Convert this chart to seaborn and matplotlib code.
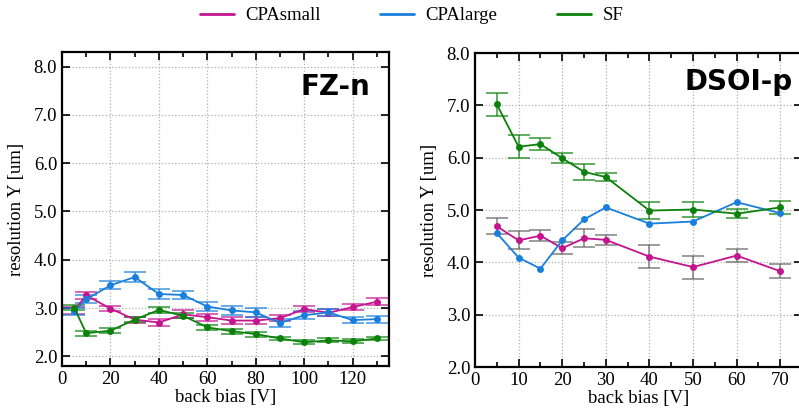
import numpy as np
import pandas as pd
import seaborn as sns
import matplotlib.pyplot as plt
from matplotlib.ticker import MultipleLocator, FormatStrFormatter

# FZ-n (left panel)
fz_bias = [5, 10, 20, 30, 40, 50, 60, 70, 80, 90, 100, 110, 120, 130]
fz_small = [2.95, 3.26, 2.99, 2.76, 2.70, 2.87, 2.81, 2.74, 2.74, 2.79, 2.98, 2.90, 3.02, 3.13]
fz_small_err = [0.07, 0.07, 0.06, 0.06, 0.08, 0.08, 0.07, 0.07, 0.07, 0.06, 0.07, 0.07, 0.07, 0.07]
fz_large = [2.93, 3.18, 3.47, 3.64, 3.29, 3.27, 3.03, 2.95, 2.91, 2.69, 2.85, 2.91, 2.75, 2.77]
fz_large_err = [0.08, 0.08, 0.08, 0.10, 0.10, 0.09, 0.10, 0.09, 0.09, 0.08, 0.08, 0.08, 0.07, 0.07]
fz_sf = [3.01, 2.48, 2.53, 2.76, 2.96, 2.84, 2.60, 2.52, 2.46, 2.37, 2.29, 2.33, 2.31, 2.37]
fz_sf_err = [0.05, 0.05, 0.05, 0.05, 0.07, 0.05, 0.05, 0.05, 0.05, 0.04, 0.04, 0.04, 0.04, 0.04]

# DSOI-p (right panel)
ds_bias = [5, 10, 15, 20, 25, 30, 40, 50, 60, 70]
ds_small = [4.69, 4.42, 4.51, 4.27, 4.46, 4.43, 4.11, 3.91, 4.13, 3.83]
ds_small_err = [0.15, 0.17, 0.11, 0.11, 0.17, 0.10, 0.22, 0.22, 0.12, 0.13]
ds_large = [4.56, 4.09, 3.88, 4.42, 4.82, 5.05, 4.74, 4.78, 5.15, 4.94]
ds_sf = [7.02, 6.21, 6.26, 5.99, 5.73, 5.63, 4.99, 5.01, 4.93, 5.05]
ds_sf_err = [0.22, 0.22, 0.12, 0.10, 0.15, 0.08, 0.16, 0.14, 0.09, 0.13]

series = ["CPAsmall", "CPAlarge", "SF"]
colors = {"CPAsmall": "#c4148f", "CPAlarge": "#1a7fdc", "SF": "#0a820a"}

sns.set_style("ticks")
plt.rcParams['font.family'] = ['Liberation Serif', 'DejaVu Serif']
plt.rcParams.update({"text.color": "black", "axes.labelcolor": "black",
                     "xtick.color": "black", "ytick.color": "black"})

fig = plt.figure(figsize=(7.99, 4.12), dpi=100)
ax1 = fig.add_axes([0.0776, 0.1117, 0.4093, 0.762])
# right panel runs slightly past the canvas edge, as in the original
ax2 = fig.add_axes([0.5945, 0.1092, 0.4093, 0.762])

def draw(ax, x, data, errs, errcolors):
    df = pd.DataFrame({"bias": np.tile(x, len(series)),
                       "res": np.concatenate([data[s] for s in series]),
                       "type": np.repeat(series, len(x))})
    for s in series:
        if errs.get(s) is not None:
            ax.errorbar(x, data[s], yerr=errs[s], fmt="none", ecolor=errcolors[s],
                        elinewidth=1.4, capsize=8, capthick=1.4, alpha=0.65, zorder=2)
    sns.lineplot(data=df, x="bias", y="res", hue="type", palette=colors, ax=ax,
                 marker="o", markersize=5, markeredgewidth=0, linewidth=1.3,
                 legend=False, zorder=3)

draw(ax1, fz_bias,
     {"CPAsmall": fz_small, "CPAlarge": fz_large, "SF": fz_sf},
     {"CPAsmall": fz_small_err, "CPAlarge": fz_large_err, "SF": fz_sf_err},
     colors)
draw(ax2, ds_bias,
     {"CPAsmall": ds_small, "CPAlarge": ds_large, "SF": ds_sf},
     {"CPAsmall": ds_small_err, "CPAlarge": None, "SF": ds_sf_err},
     {"CPAsmall": "#666666", "CPAlarge": colors["CPAlarge"], "SF": colors["SF"]})

ax1.set_xlim(0, 135)
ax1.set_ylim(1.8, 8.3)
ax1.xaxis.set_major_locator(MultipleLocator(20))
ax1.xaxis.set_minor_locator(MultipleLocator(10))
ax2.set_xlim(0, 75)
ax2.set_ylim(2.0, 8.0)
ax2.xaxis.set_major_locator(MultipleLocator(10))
ax2.xaxis.set_minor_locator(MultipleLocator(5))

for ax in (ax1, ax2):
    ax.yaxis.set_major_locator(MultipleLocator(1.0))
    ax.yaxis.set_major_formatter(FormatStrFormatter("%.1f"))
    ax.tick_params(which="both", direction="in", top=True, right=True,
                   labelsize=13.5, width=1.2, color="black", labelcolor="black")
    ax.tick_params(which="major", length=6)
    ax.tick_params(which="minor", length=3.5)
    ax.grid(True, which="major", linestyle=":", color="#b0b0b0", linewidth=0.9)
    for sp in ax.spines.values():
        sp.set_linewidth(1.6)
        sp.set_color("black")
    ax.set_xlabel("back bias [V]", fontsize=13.5, labelpad=1)
    ax.set_ylabel("resolution Y [um]", fontsize=13.5, labelpad=6)

ax1.text(0.942, 0.863, "FZ-n", transform=ax1.transAxes, ha="right", va="baseline",
         fontsize=20, fontweight="bold", family="DejaVu Sans", color="black")
ax2.text(0.972, 0.882, "DSOI-p", transform=ax2.transAxes, ha="right", va="baseline",
         fontsize=20, fontweight="bold", family="DejaVu Sans", color="black")

handles = [plt.Line2D([], [], color=colors[s], linewidth=2) for s in series]
fig.legend(handles, series, loc="center", bbox_to_anchor=(0.515, 0.962), ncol=3,
           frameon=False, fontsize=13.5, handlelength=1.8, handletextpad=0.6,
           columnspacing=3.2)

fig.savefig("out.png", dpi=100)
